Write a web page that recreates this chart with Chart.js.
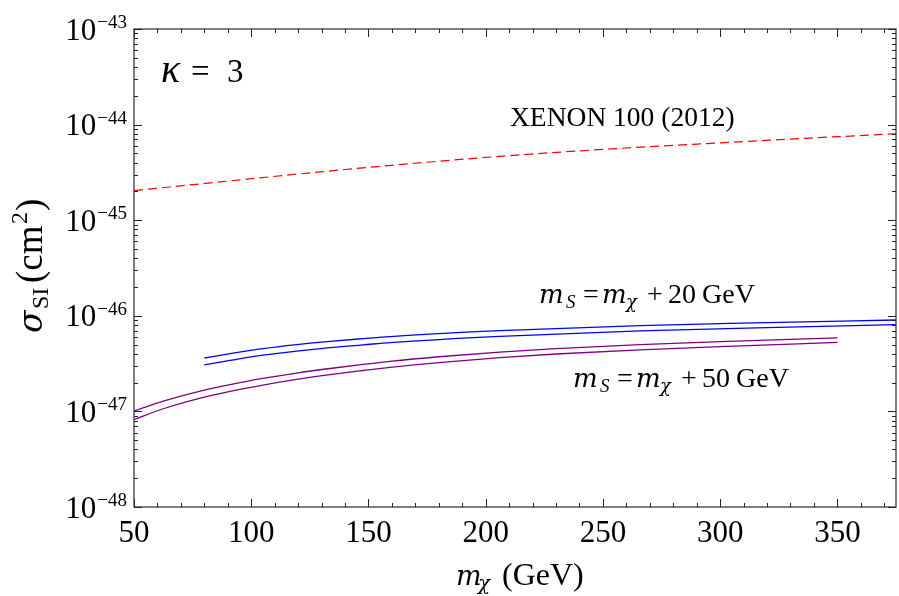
<!DOCTYPE html>
<html>
<head>
<meta charset="utf-8">
<script src="https://cdn.jsdelivr.net/npm/chart.js@4.4.0/dist/chart.umd.min.js"></script>
<style>
html,body{margin:0;padding:0;background:#fff;}
#wrap{width:899px;height:596px;}
</style>
</head>
<body>
<div id="wrap"><canvas id="c" width="899" height="596"></canvas></div>
<script>
// ---- data ----
const xenonMass  = [50, 89.7, 129.3, 169.8, 210.3, 250.9, 291.4, 334, 375];
const xenonSigma = [2.04e-45, 2.56e-45, 3.20e-45, 3.94e-45, 4.74e-45, 5.52e-45, 6.28e-45, 7.14e-45, 8.01e-45];

const ms20Mass  = [80, 91, 105, 119.4, 133.6, 147.8, 159.2, 206, 265.8, 320, 375];
const ms20Upper = [3.62e-47, 4.02e-47, 4.54e-47, 5.00e-47, 5.41e-47, 5.77e-47, 6.06e-47, 7.00e-47, 7.90e-47, 8.49e-47, 9.04e-47];
const ms20Lower = [3.06e-47, 3.41e-47, 3.87e-47, 4.28e-47, 4.65e-47, 4.97e-47, 5.25e-47, 6.10e-47, 6.94e-47, 7.52e-47, 8.09e-47];

const ms50Mass  = [50, 62.5, 80, 91, 105, 119.4, 133.6, 147.8, 159.2, 180, 206, 230, 265.8, 300, 350];
const ms50Upper = [1.01e-47, 1.28e-47, 1.67e-47, 1.91e-47, 2.21e-47, 2.52e-47, 2.81e-47, 3.10e-47, 3.34e-47, 3.73e-47, 4.17e-47, 4.54e-47, 4.99e-47, 5.37e-47, 5.89e-47];
const ms50Lower = [8.21e-48, 1.066e-47, 1.411e-47, 1.621e-47, 1.885e-47, 2.160e-47, 2.420e-47, 2.677e-47, 2.891e-47, 3.244e-47, 3.644e-47, 3.987e-47, 4.403e-47, 4.761e-47, 5.260e-47];

const xMajorTicks = [50, 100, 150, 200, 250, 300, 350];
const xMinorStep = 10;
const yDecades = [-48, -47, -46, -45, -44, -43];
const xRange = [50, 375];

function pts(xs, ys){ return xs.map((x,i)=>({x:x, y:ys[i]})); }

const SERIF = "'Liberation Serif', 'DejaVu Serif', serif";
const MATH = "'DejaVu Serif', 'Liberation Serif', serif";

function rich(ctx, x, y, parts){
  parts.forEach(p=>{
    ctx.font = p[1];
    ctx.fillText(p[0], x + p[2], y + (p[3]||0));
  });
}

const framePlugin = {
  id: 'frame',
  afterDatasetsDraw(chart){
    const ctx = chart.ctx, a = chart.chartArea;
    const xs = chart.scales.x, ys = chart.scales.y;
    ctx.save();
    ctx.strokeStyle = '#555';
    ctx.lineWidth = 1.5;
    ctx.strokeRect(a.left, a.top, a.right - a.left, a.bottom - a.top);
    ctx.strokeStyle = '#222';
    ctx.lineWidth = 1;
    for (let v = xRange[0]; v <= xRange[1]; v += xMinorStep){
      const px = Math.round(xs.getPixelForValue(v)) + 0.5;
      const L = xMajorTicks.includes(v) ? 8 : 4;
      ctx.beginPath();
      ctx.moveTo(px, a.bottom); ctx.lineTo(px, a.bottom - L);
      ctx.moveTo(px, a.top); ctx.lineTo(px, a.top + L);
      ctx.stroke();
    }
    yDecades.forEach(d=>{
      for (let m = 1; m <= 9; m++){
        if (d === yDecades[yDecades.length-1] && m > 1) break;
        const py = Math.round(ys.getPixelForValue(m * Math.pow(10, d))) + 0.5;
        const L = m === 1 ? 8 : 4;
        ctx.beginPath();
        ctx.moveTo(a.left, py); ctx.lineTo(a.left + L, py);
        ctx.moveTo(a.right, py); ctx.lineTo(a.right - L, py);
        ctx.stroke();
      }
    });
    ctx.fillStyle = '#000';
    ctx.textAlign = 'center';
    ctx.textBaseline = 'alphabetic';
    ctx.font = '31px ' + SERIF;
    xMajorTicks.forEach(v=>{
      ctx.fillText(String(v), xs.getPixelForValue(v), a.bottom + 35);
    });
    ctx.textAlign = 'left';
    yDecades.forEach(d=>{
      const py = ys.getPixelForValue(Math.pow(10, d));
      const base = '10';
      const sup = '\u2212' + String(-d);
      ctx.font = '19px ' + SERIF;
      const sw = ctx.measureText(sup).width;
      ctx.font = '31px ' + SERIF;
      const bw = ctx.measureText(base).width;
      const right = a.left - 7;
      ctx.fillText(base, right - sw - bw - 1, py + 10.5);
      ctx.font = '19px ' + SERIF;
      ctx.fillText(sup, right - sw, py - 1);
    });
    // x axis title
    const M28 = 'italic 27px ' + MATH, R32 = '32px ' + SERIF, I20 = 'italic 20px ' + MATH;
    rich(ctx, 456, 585, [['m', M28, 0, 0], ['\u03C7', I20, 22, 5], ['(GeV)', R32, 46, 0]]);
    // y axis title (rotated)
    ctx.save();
    ctx.translate(42, 333);
    ctx.rotate(-Math.PI/2);
    const R24 = '24px ' + SERIF, R37 = '37px ' + SERIF, S34 = 'italic 33px ' + MATH;
    rich(ctx, 0, 0, [['\u03C3', S34, 0, 0], ['SI', R24, 24, 6], ['(cm', R37, 50, 0], ['2', R24, 109, -15], [')', R37, 122, 0]]);
    ctx.restore();
    // kappa label
    const K = 'italic 40px ' + SERIF, R33 = '33px ' + SERIF;
    rich(ctx, 161, 82, [['\u03BA', K, 0, 0], ['=', R33, 30, 0], ['3', R33, 66, 0]]);
    // XENON label
    ctx.font = '27.5px ' + SERIF;
    ctx.fillText('XENON 100 (2012)', 510, 126);
    // m_S labels
    const Mm = 'italic 26px ' + MATH, R28 = '28px ' + SERIF, Is = 'italic 19px ' + SERIF, Ic = 'italic 18px ' + MATH;
    function msLabel(x, y, num){
      rich(ctx, x, y, [['m', Mm, 0, 0], ['S', Is, 27, 5], ['=', R28, 44, 0], ['m', Mm, 63, 0],
        ['\u03C7', Ic, 87, 5], ['+', R28, 108, 0], [num, R28, 129, 0], ['GeV', R28, 163, 0]]);
    }
    msLabel(539, 303, '20');
    msLabel(573, 387, '50');
    ctx.restore();
  }
};

const lineBase = {pointRadius: 0, fill: false, cubicInterpolationMode: 'monotone', borderWidth: 1.3};

new Chart(document.getElementById('c'), {
  type: 'line',
  data: {
    datasets: [
      Object.assign({}, lineBase, {label: 'XENON 100 (2012)', data: pts(xenonMass, xenonSigma), borderColor: '#ff0000', borderDash: [9, 5], borderWidth: 1.2}),
      Object.assign({}, lineBase, {label: 'mS = mχ + 20 GeV (a)', data: pts(ms20Mass, ms20Upper), borderColor: '#0000ff'}),
      Object.assign({}, lineBase, {label: 'mS = mχ + 20 GeV (b)', data: pts(ms20Mass, ms20Lower), borderColor: '#0000ff'}),
      Object.assign({}, lineBase, {label: 'mS = mχ + 50 GeV (a)', data: pts(ms50Mass, ms50Upper), borderColor: '#800080'}),
      Object.assign({}, lineBase, {label: 'mS = mχ + 50 GeV (b)', data: pts(ms50Mass, ms50Lower), borderColor: '#800080'})
    ]
  },
  options: {
    responsive: false,
    animation: false,
    layout: {padding: {left: 134, top: 29, right: 3, bottom: 89}},
    plugins: {legend: {display: false}, tooltip: {enabled: false}},
    scales: {
      x: {type: 'linear', min: xRange[0], max: xRange[1], display: false},
      y: {type: 'logarithmic', min: 1e-48, max: 1e-43, display: false}
    }
  },
  plugins: [framePlugin]
});
</script>
</body>
</html>
